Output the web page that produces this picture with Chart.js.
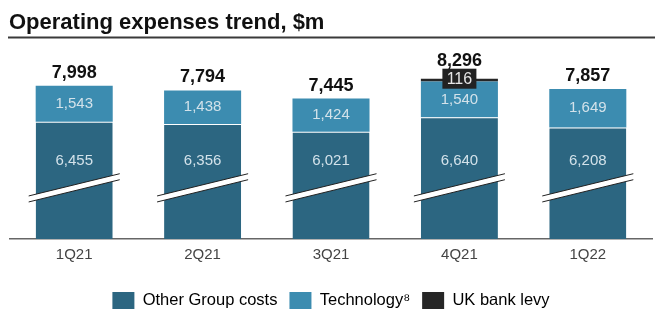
<!DOCTYPE html>
<html>
<head>
<meta charset="utf-8">
<script src="https://cdn.jsdelivr.net/npm/chart.js@4/dist/chart.umd.min.js"></script>
<style>
  html, body { margin: 0; padding: 0; background: #fff; }
  #wrap { width: 663px; height: 323px; position: relative; }
</style>
</head>
<body>
<div id="wrap"><canvas id="chart" width="663" height="323"></canvas></div>
<script>
const quarters = ["1Q21", "2Q21", "3Q21", "4Q21", "1Q22"];
const otherCosts = [6455, 6356, 6021, 6640, 6208];
const technology = [1543, 1438, 1424, 1540, 1649];
const ukLevy = [0, 0, 0, 116, 0];
const totals = [7998, 7794, 7445, 8296, 7857];

const FONT = "'Liberation Sans', Arial, sans-serif";
Chart.defaults.font.family = FONT;

// value where the axis break is drawn and where the big label sits
const breakValue = 3750;
const otherLabelValue = 4770;

const fmt = (v) => v.toLocaleString("en-US");

const decor = {
  id: "decor",
  afterDraw(chart) {
    const ctx = chart.ctx;
    // title + rule
    ctx.save();
    ctx.fillStyle = "#111";
    ctx.font = "bold 22px " + FONT;
    ctx.textBaseline = "alphabetic";
    ctx.textAlign = "left";
    ctx.fillText("Operating expenses trend, $m", 9, 29);
    ctx.strokeStyle = "#3a3a3a";
    ctx.lineWidth = 2;
    ctx.beginPath();
    ctx.moveTo(8, 37.5);
    ctx.lineTo(655, 37.5);
    ctx.stroke();
    ctx.restore();
  },
  afterDatasetsDraw(chart) {
    const ctx = chart.ctx;
    const y = chart.scales.y;
    const m0 = chart.getDatasetMeta(0);
    const m1 = chart.getDatasetMeta(1);
    const m2 = chart.getDatasetMeta(2);
    ctx.save();
    quarters.forEach((q, i) => {
      const bar = m0.data[i];
      const half = bar.width / 2;
      // break band
      const by = y.getPixelForValue(breakValue);
      const x1 = bar.x - half - 7, x2 = bar.x + half + 7;
      const slope = -22 / 90;
      const yl = by + slope * (x1 - bar.x), yr = by + slope * (x2 - bar.x);
      const t = 6;
      ctx.fillStyle = "#fff";
      ctx.beginPath();
      ctx.moveTo(x1, yl);
      ctx.lineTo(x2, yr);
      ctx.lineTo(x2, yr + t);
      ctx.lineTo(x1, yl + t);
      ctx.closePath();
      ctx.fill();
      ctx.strokeStyle = "#222";
      ctx.lineWidth = 1;
      ctx.beginPath();
      ctx.moveTo(x1, yl); ctx.lineTo(x2, yr);
      ctx.moveTo(x1, yl + t); ctx.lineTo(x2, yr + t);
      ctx.stroke();

      // inner values
      ctx.fillStyle = "#d3e2ea";
      ctx.font = "15px " + FONT;
      ctx.textAlign = "center";
      ctx.textBaseline = "middle";
      ctx.fillText(fmt(otherCosts[i]), bar.x, y.getPixelForValue(otherLabelValue));
      const tb = m1.data[i];
      ctx.fillText(fmt(technology[i]), bar.x, (tb.y + tb.base) / 2);

      // levy box + total
      let top = m1.data[i].y;
      if (ukLevy[i] > 0) {
        const lv = m2.data[i];
        const cy = lv.y;
        const bw = 34, bh = 20;
        ctx.fillStyle = "#222";
        ctx.fillRect(bar.x - bw / 2, cy - bh / 2, bw, bh);
        ctx.fillStyle = "#e6e6e6";
        ctx.font = "16px " + FONT;
        ctx.fillText(fmt(ukLevy[i]), bar.x, cy + 1);
        top = cy - bh / 2 + 5;
      }
      ctx.fillStyle = "#111";
      ctx.font = "bold 18px " + FONT;
      ctx.textBaseline = "bottom";
      ctx.fillText(fmt(totals[i]), bar.x, top - 4);
    });
    ctx.restore();
  }
};

new Chart(document.getElementById("chart"), {
  type: "bar",
  data: {
    labels: quarters,
    datasets: [
      {
        label: "Other Group costs",
        data: otherCosts,
        backgroundColor: "#2c6681",
        borderColor: "rgba(255,255,255,0.7)",
        borderWidth: { top: 1, left: 0, right: 0, bottom: 0 },
        borderSkipped: false
      },
      {
        label: "Technology\u2078",
        data: technology,
        backgroundColor: "#3c8cb0",
        borderWidth: 0
      },
      {
        label: "UK bank levy",
        data: ukLevy,
        backgroundColor: "#262626",
        borderWidth: 0
      }
    ]
  },
  options: {
    responsive: false,
    animation: false,
    devicePixelRatio: 1,
    layout: { padding: { top: 50, left: 10, right: 11, bottom: 4 } },
    datasets: { bar: { barPercentage: 0.6, categoryPercentage: 1 } },
    scales: {
      x: {
        stacked: true,
        grid: { display: false, drawTicks: false },
        border: { color: "#666", width: 1.5 },
        ticks: { color: "#444", font: { size: 15 }, padding: 7 },
        afterFit(scale) { scale.height += 9; }
      },
      y: {
        stacked: true,
        display: false,
        min: 1430,
        max: 9525
      }
    },
    plugins: {
      tooltip: { enabled: false },
      legend: {
        position: "bottom",
        labels: {
          color: "#333",
          font: { size: 16.5 },
          boxWidth: 22,
          boxHeight: 17,
          padding: 12,
          generateLabels(chart) {
            return chart.data.datasets.map((d, i) => ({
              text: d.label,
              fillStyle: d.backgroundColor,
              strokeStyle: d.backgroundColor,
              lineWidth: 0,
              datasetIndex: i,
              hidden: false
            }));
          }
        }
      }
    }
  },
  plugins: [decor]
});
</script>
</body>
</html>
